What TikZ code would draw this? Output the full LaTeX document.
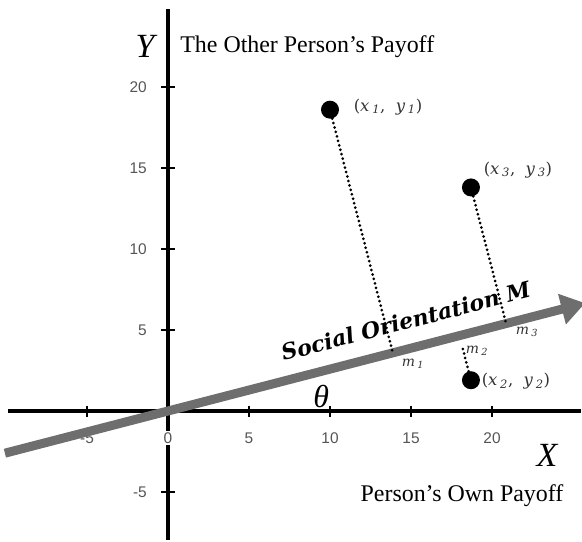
\documentclass[tikz,border=0pt]{standalone}
\usepackage{fontspec}
\setmainfont{Liberation Serif}
\setsansfont{Liberation Sans}
\newfontfamily\dvserif{DejaVu Serif}
\usetikzlibrary{arrows.meta,calc}
\definecolor{arrowgray}{HTML}{6E6E6E}
\definecolor{labgray}{HTML}{333333}
\definecolor{tickgray}{HTML}{555555}
\tikzset{
  axisline/.style={line width=3.2bp, black},
  tickline/.style={line width=1.3bp, black},
  ticklab/.style={font=\sffamily\fontsize{15.5}{15.5}\selectfont, text=tickgray, inner sep=0pt},
  ptdot/.style={circle, fill=black, minimum size=18bp, inner sep=0pt},
  projline/.style={line width=3bp, dash pattern=on 0bp off 4.6bp, line cap=round},
  orient/.style={line width=9bp, arrowgray, -{Triangle[length=24bp,width=30bp]}},
  ptlab/.style={font=\dvserif\fontsize{16.5}{16.5}\selectfont, text=labgray, inner sep=0pt},
  mlab/.style={font=\dvserif\fontsize{14}{14}\selectfont, text=labgray, inner sep=0pt},
  axlab/.style={font=\itshape\fontsize{34}{34}\selectfont, inner sep=0pt},
  desc/.style={font=\fontsize{24}{24}\selectfont, inner sep=0pt},
}
\begin{document}
\begin{tikzpicture}[x=1bp,y=-1bp]
\useasboundingbox (0,0) rectangle (582,542);
\begin{scope}[shift={(168,411)}, x=16.2bp, y=16.2bp]
  \coordinate (o) at (0,0);
  \coordinate (xl) at (-9.88,0);
  \coordinate (xr) at (25.5,0);
  \coordinate (yb) at (0,-7.96);
  \coordinate (yt) at (0,24.8);
  \coordinate (dir) at (14.5:10);
  \coordinate (as) at (194.5:10.4);
  \coordinate (ae) at (14.5:26.6);
  % axes
  \draw[axisline] (xl) -- (xr);
  \draw[axisline] (yb) -- (yt);
  % ticks
  \foreach \t in {-5,5,10,15,20} {
    \draw[tickline] (\t,0) ++(0,5.5bp) -- ++(0,-11bp);
    \node[ticklab] (xt\t) at (\t,-1.67) {\t};
  }
  \foreach \t in {-5,5,10,15,20} {
    \draw[tickline] (0,\t) ++(-7bp,0) -- ++(14bp,0);
    \node[ticklab, anchor=east] (yt\t) at (-1.3,\t) {\t};
  }
  \node[ticklab, fill=white, inner sep=1.5bp] (x0) at (0,-1.67) {0};
  % axis labels
  \node[axlab] (ylab) at (-1.42,22.5) {Y};
  \node[desc, anchor=west] (ydesc) at (0.75,22.47) {The Other Person's Payoff};
  \node[axlab] (xlab) at (23.4,-2.72) {X};
  \node[desc] (xdesc) at (18.15,-5.25) {Person's Own Payoff};
  % orientation arrow
  \draw[orient] (as) -- (ae);
  \node[font=\dvserif\bfseries\itshape\fontsize{22}{22}\selectfont, rotate=14.5, anchor=base, inner sep=0pt]
    (solab) at ($(14.5:15.6)+(104.5:1.2)$) {Social Orientation M};
  \node[font=\itshape\fontsize{32}{32}\selectfont, inner sep=0pt] (theta) at (9.45,0.9) {θ};
  % points
  \node[ptdot] (p1) at (10,18.6) {};
  \node[ptdot] (p3) at (18.7,13.8) {};
  \node[ptdot] (p2) at (18.7,1.9) {};
  \coordinate (f1) at ($(o)!(p1)!(dir)$);
  \coordinate (f3) at ($(o)!(p3)!(dir)$);
  \coordinate (f2) at ($(o)!(p2)!(dir)$);
  \coordinate (e2) at ($(p2)!0.72!(f2)$);
  \draw[projline] (p1) -- (f1);
  \draw[projline] (p3) -- (f3);
  \draw[projline] (p2) -- (e2);
  % labels
  \node[ptlab] (l1) at (13.58,18.77) {(\textit{x}\,\textsubscript{\textit{1}},\ \ \textit{y}\,\textsubscript{\textit{1}})};
  \node[ptlab] (l3) at (21.6,14.88) {(\textit{x}\,\textsubscript{\textit{3}},\ \ \textit{y}\,\textsubscript{\textit{3}})};
  \node[ptlab] (l2) at (21.48,1.85) {(\textit{x}\,\textsubscript{\textit{2}},\ \ \textit{y}\,\textsubscript{\textit{2}})};
  \node[mlab] (m1) at (15.12,2.9) {\textit{m}\,\textsubscript{\textit{1}}};
  \node[mlab] (m2) at (19.07,3.7) {\textit{m}\,\textsubscript{\textit{2}}};
  \node[mlab] (m3) at (22.16,4.88) {\textit{m}\,\textsubscript{\textit{3}}};
\end{scope}
\end{tikzpicture}
\end{document}
